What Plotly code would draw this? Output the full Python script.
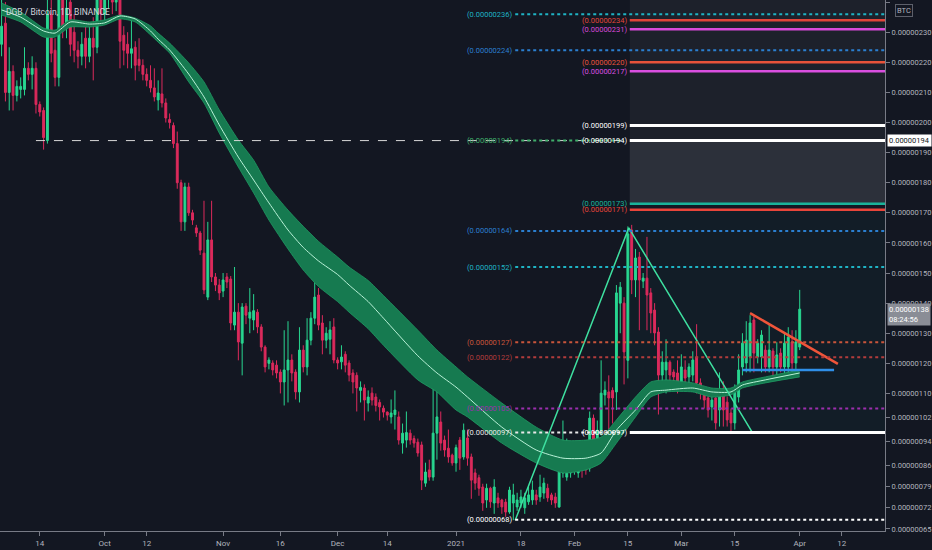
import pandas as pd
import plotly.graph_objects as go

# ---------------- data ----------------
start_date = "2020-09-04"
n_candles = 210

opens = [226,233,210,217,209,211,211,218,216,218,206,204,194,236,224,215,244,232,240,230,
         224,222,228,222,228,225,241,236,243,246,240,245,229,226,223,225,221,219,216,214,
         211.5,207.5,209.5,206.5,201,199,193,180,167,178.6,170,165,163.3,156.6,142,161,148.7,146,144,148.7,
         148,132.7,137,126.7,139,135,134.4,137,132.1,125.4,120,120.1,119.4,117.1,113.8,117.8,121.1,117.1,110.5,124.4,
         118.8,127.7,135,142.7,133.4,127.7,128,132.1,121.1,120.5,123,120.1,116.8,116,111,111.8,106.8,110.1,108.8,107,
         105.1,103.8,102.2,103,102.2,93.5,94.5,96.8,95,93.8,92.9,80.2,84.6,82.2,96.8,100.5,94.5,91.8,89.5,86.9,
         94.5,88.9,95.2,88.9,83.6,82,78.9,74.6,78.5,73.6,75.3,74.6,73.9,70.6,73.6,72.3,73.6,72,74,74.6,
         76.3,75.6,76.9,78.5,76.3,75.6,72.3,83.6,82.2,83.6,85.2,83.6,90.2,86.9,85.2,101.8,92.2,97.8,109.5,110.5,
         111,110.5,140,140,121,164.3,147.7,155.3,147.3,148.3,143.4,137.7,130.4,116.1,117.8,120.4,117.1,116.8,113.5,117.8,
         115.5,116.1,122.1,113.5,110.1,108.5,105.5,108.5,104.5,111.1,107.1,103.5,100.2,108.8,118.8,120.1,122.1,134.4,122.1,122.1,
         124.4,118.8,124.1,118.8,123.4,118.8,118.8,127.1,120.1,125.4]
highs = [245,240,225,219,214,215,225,220,222,220,207,205,245,245,228,248,250,246,246,236,
         227,230,232,233,235,248,246,250,252,249,250,250,232,230,234,227,228,221,218,219,
         218,214,218,208,203,200,197,181,180,180,171,166,164,174,167,174,150,148,150,150,
         149,152,140,140,140,145,143,138,133,126,122,121,121,118,131,134,123,118,132,126,
         135,137,159,145,136,132,134,135,122,126,124,121,118,117,114,113,111,112,110,108,
         106,104,108,111,104,100,104,98,96,95,94,87,88,115,115,104,96,98,90,93,
         95.5,100,98,90,85,83,80,80,79,81.5,77,75,75,79,80,77,78,77,79,81,
         78,83,82,80,77,77,86,101,95,93.5,90,94,91,88,104,103,101,121,114,116,
         112,146,147,142,165.5,166,158,157,150,162,145,140,132,124,128,121,118,121,123,121,
         120,124,133,115,112,110,110,110,117,114,109,105,113,123,130,134,136,136,128,131,
         126,133,125,127,125,130,132,131,131,144.4]
lows = [222,207,204,204,207,208,209,214,211,203,202,191,193,220,212,212,228,228,222,220,
        218,219,218,220,214,223,232,233,238,236,237,218,219,218,218,214,217,214,212,210,
        207,204,205,200,198,191.5,178,164,164,169,166,162,156,143,141,147,144,141,142,145,
        131,131,121,116,133,130,131,130,124,117,118,116,115,110,106,107,114,108,107,117,
        116,126,133,131,123,125,123,120,118,118,117,114,110,104,107,101,104,106,104,101,
        102,101,100,98,93,90,92,93,92,89,77.9,79,81,81,88,91,89,87,86,84,
        84.6,88,86,75,78,76,71,72,72,70,72,70,69,70,67.9,71,72,70,73,73,
        73,74,75,74,73,72,72,82,81,82,83,82,82,83,84,92,89,96,106,98,
        100,104.5,130,113,115,143,142,131,145,131,130,126,103,112,110,114,113,110,112,113,
        113,114,110,108,105,102,101,98,99,99,99,96.5,98,107,116,117,117,117,120,117,
        117,117,115,116,117,116,116,116,117,124.4]
closes = [232,210,217,209,212,212,218,216,218,206,203.5,195,236,223,215,244,232,238,226,224,
          222,226,222,228,225,241,236,243,246,240,245,227,224,223,224.5,219,219,216,214,211.5,
          208.5,209.8,206.5,201.5,200,193,180,167,178.6,170,167.6,163.3,157.6,144.4,161,148.7,146,143.4,147.7,147,
          133.4,137,127.1,138.7,136,137,137.5,132.1,125.4,118.8,121.1,117.8,116.8,113.8,117.8,121.1,116.8,110.5,124.4,118.8,
          127.7,135,142,132.7,127.7,130,131.1,121.1,120.1,122.1,119.4,116.1,113.8,111.8,112,107.8,108.8,107.8,106,105.5,
          103.8,102.8,103.5,104.5,94.5,96.8,97,94.5,93.5,90.2,81.2,83.9,82.2,96.8,102.2,93.5,91.2,88.9,86.9,92,
          88.5,97.8,88.5,81.2,80.2,78.5,73.6,78.5,74,78.9,73.6,72.3,70.6,77.9,76.3,74.6,75.6,75.3,76.3,77.9,
          74.6,78.9,80.2,75.3,74.6,73.6,84.6,86.9,90.2,87.9,86.9,90.2,86.9,84.6,101.8,94.5,97.8,110.1,111.1,108.5,
          108.5,143.4,145.3,123.8,163,147.7,155,147.7,148.3,142.7,136.7,130.1,116.1,120.4,120.4,116.1,115.5,113.8,118.8,115.1,
          118.8,121.1,113.5,110.1,107.8,104.5,107.8,100.2,111.1,104.5,101.2,100.2,111.1,117.8,126.7,127.7,133.4,123.4,126.7,129.4,
          118.8,124.4,118.8,122.8,118.8,126.7,128.7,120.1,127.1,138]

rib_dates = ["2020-09-04","2020-09-09","2020-09-15","2020-09-18","2020-09-22","2020-09-27","2020-10-01",
             "2020-10-05","2020-10-09","2020-10-13","2020-10-15","2020-10-18","2020-10-23","2020-10-27",
             "2020-10-31","2020-11-05","2020-11-09","2020-11-13","2020-11-18","2020-11-22","2020-11-26",
             "2020-12-01","2020-12-04","2020-12-09","2020-12-13","2020-12-22","2020-12-27","2021-01-01",
             "2021-01-04","2021-01-13","2021-01-22","2021-01-29","2021-02-04","2021-02-08","2021-02-12",
             "2021-02-17","2021-02-21","2021-02-25","2021-03-04","2021-03-09","2021-03-14","2021-03-17",
             "2021-03-23","2021-04-01"]
rib_upper = [239.7,236.7,231.4,230.7,234.1,233.4,234.1,235.7,234.7,232.1,229.7,226.4,219.8,213.5,
             204.2,194.2,187.5,178.6,170.9,165.5,160.5,155.3,152.0,147.5,142.5,131.0,124.4,118.8,
             115.5,106.8,98.8,94.5,94.5,95.5,101.2,108.8,113.8,114.5,113.5,111.8,111.8,113.8,115.5,117.8]
rib_lower = [235.7,233.4,228.4,228.4,231.7,231.7,232.4,234.4,233.4,229.1,226.7,223.1,213.5,206.5,
             196.5,185.2,176.6,167.6,158.0,151.0,145.5,140.5,137.0,131.5,126.0,114.5,110.5,104.5,
             102.2,93.5,86.9,83.6,84.6,86.9,93.5,102.2,108.8,110.5,110.5,108.8,109.5,111.8,113.5,115.5]
rib_mid = [237.4,235.0,230.4,229.7,233.4,232.7,233.1,235.4,234.4,230.4,227.7,224.1,216.1,208.5,
           199.2,188.5,180.9,173.3,164.3,158.5,154.0,149.5,146.0,140.5,135.0,122.5,116.8,112.1,
           108.8,98.8,91.2,88.5,88.5,90.2,97.8,104.5,110.5,111.1,111.8,110.5,110.5,112.8,114.5,116.8]

# fib levels anchored at the swing low (left labels) and at the peak (right labels)
low_fib_levels = [236, 224, 194, 164, 152, 127, 122, 105, 97, 68]
low_fib_colors = ["#1fb3c4", "#2b7fd0", "#3fae6a", "#2b7fd0", "#1fb3c4", "#c9553b", "#b23c3c", "#9b2fae", "#e8e8e8", "#ffffff"]
high_fib_levels = [234, 231, 220, 217, 199, 194, 173, 171, 97]
high_fib_colors = ["#e0453a", "#d94ad9", "#e8533a", "#d94fe0", "#ffffff", "#ffffff", "#1ab39a", "#e8453a", "#ffffff"]

zig_dates = ["2021-01-16 12:00", "2021-02-15 06:00", "2021-03-19 12:00"]
zig_prices = [67.9, 165.0, 97.2]
trend_dates = ["2021-03-19", "2021-04-11"]
trend_prices = [136.7, 119.8]
support_dates = ["2021-03-17", "2021-04-10"]
support_prices = [117.8, 117.8]

y_ticks = [65, 72, 79, 86, 94, 102, 110, 120, 130, 140, 150, 160, 170, 180, 190, 200, 210, 220, 230, 240]
x_tick_dates = ["2020-09-14", "2020-10-01", "2020-10-12", "2020-11-01", "2020-11-16", "2020-12-01", "2020-12-14",
                "2021-01-01", "2021-01-18", "2021-02-01", "2021-02-15", "2021-03-01", "2021-03-15", "2021-04-01", "2021-04-12"]
x_tick_labels = ["14", "Oct", "12", "Nov", "16", "Dec", "14", "2021", "18", "Feb", "15", "Mar", "15", "Apr", "12"]

last_price = 138
# --------------------------------------

dates = pd.date_range(start_date, periods=n_candles, freq="D")
x_end = "2021-04-23 08:00"
x_start = "2020-09-03 14:00"
BG = "#131722"
FONT = "Liberation Sans Narrow, Roboto, Arial, sans-serif"

def fmt(p):
    return "(" + "{:.8f}".format(p / 1e8) + ")"

fig = go.Figure()

# shaded fib zones (right side)
fig.add_shape(type="rect", xref="x", yref="y", x0="2021-02-15 12:00", x1=x_end, y0=194, y1=245,
              fillcolor="rgba(255,255,255,0.045)", line_width=0, layer="below")
fig.add_shape(type="rect", xref="x", yref="y", x0="2021-02-15 12:00", x1=x_end, y0=173, y1=194,
              fillcolor="rgba(255,255,255,0.11)", line_width=0, layer="below")
fig.add_shape(type="rect", xref="x", yref="y", x0="2021-02-15 12:00", x1=x_end, y0=97, y1=171,
              fillcolor="rgba(0,150,136,0.05)", line_width=0, layer="below")

# ribbon
RIB = "rgb(22,122,80)"
fig.add_trace(go.Scatter(x=rib_dates, y=rib_lower, mode="lines",
                         line=dict(color="#1f9a63", width=0.8, shape="spline", smoothing=0.6), hoverinfo="skip"))
fig.add_trace(go.Scatter(x=rib_dates, y=rib_upper, mode="lines",
                         line=dict(color="#1f9a63", width=0.8, shape="spline", smoothing=0.6),
                         fill="tonexty", fillcolor=RIB, hoverinfo="skip"))
fig.add_trace(go.Scatter(x=rib_dates, y=rib_mid, mode="lines",
                         line=dict(color="#b9f2d8", width=1, shape="spline", smoothing=0.6), hoverinfo="skip"))

# candles
fig.add_trace(go.Candlestick(x=dates, open=opens, high=highs, low=lows, close=closes,
                             increasing=dict(line=dict(color="#28d690", width=1), fillcolor="#28d690"),
                             decreasing=dict(line=dict(color="#dc2a5c", width=1), fillcolor="#dc2a5c"),
                             whiskerwidth=0))

# long dashed 194 line
fig.add_shape(type="line", xref="x", yref="y", x0="2020-09-13", x1=x_end, y0=194, y1=194,
              line=dict(color="#d8d8d8", width=1, dash="dash"))

# left fib set: dotted lines from swing low
for lvl, col in zip(low_fib_levels, low_fib_colors):
    x1 = "2021-02-14" if lvl in (97, 194) else x_end
    fig.add_shape(type="line", xref="x", yref="y", x0="2021-01-16 12:00", x1=x1, y0=lvl, y1=lvl,
                  line=dict(color=col, width=2, dash="dot"))
    fig.add_annotation(x="2021-01-16 06:00", y=lvl, xref="x", yref="y", text=fmt(lvl), showarrow=False,
                       xanchor="right", yanchor="middle", font=dict(family=FONT, size=7.5, color=col))

# right fib set: solid lines from peak
for lvl, col in zip(high_fib_levels, high_fib_colors):
    w = 3 if lvl in (97, 194, 199) else 2.5
    fig.add_shape(type="line", xref="x", yref="y", x0="2021-02-15 12:00", x1=x_end, y0=lvl, y1=lvl,
                  line=dict(color=col, width=w))
    fig.add_annotation(x="2021-02-15 06:00", y=lvl, xref="x", yref="y", text=fmt(lvl), showarrow=False,
                       xanchor="right", yanchor="middle", font=dict(family=FONT, size=7.5, color=col))

# drawings
fig.add_trace(go.Scatter(x=zig_dates, y=zig_prices, mode="lines", line=dict(color="#3ee0a0", width=1.5), hoverinfo="skip"))
fig.add_trace(go.Scatter(x=trend_dates, y=trend_prices, mode="lines", line=dict(color="#f0553a", width=2.5), hoverinfo="skip"))
fig.add_trace(go.Scatter(x=support_dates, y=support_prices, mode="lines", line=dict(color="#2f8fe8", width=2.5), hoverinfo="skip"))

# title
fig.add_annotation(x=0.005, y=0.99, xref="paper", yref="paper", text="DGB / Bitcoin, 1D, BINANCE", showarrow=False,
                   xanchor="left", yanchor="top", font=dict(family=FONT, size=8.5, color="#d1d4dc"))

# price axis boxes
fig.add_annotation(x=1, y=194, xref="paper", yref="y", text="0.00000194", showarrow=False, xanchor="left",
                   xshift=2, yanchor="middle", bgcolor="#ffffff", font=dict(family=FONT, size=7.5, color="#131722"),
                   borderpad=1)
fig.add_annotation(x=1, y=last_price, xref="paper", yref="y", text="0.00000138<br>08:24:56", showarrow=False,
                   xanchor="left", xshift=2, yanchor="top", yshift=6, align="left", bgcolor="#8a8d96",
                   font=dict(family=FONT, size=7.5, color="#ffffff"), borderpad=1)
fig.add_annotation(x=1, y=1, xref="paper", yref="paper", text="BTC", showarrow=False, xanchor="left", xshift=10,
                   yanchor="top", yshift=-4, bordercolor="#5d606b", borderwidth=1, borderpad=1, bgcolor=BG,
                   font=dict(family=FONT, size=7.5, color="#b2b5be"))

fig.update_layout(
    width=932, height=550, margin=dict(l=0, r=42, t=0, b=19),
    paper_bgcolor=BG, plot_bgcolor=BG, showlegend=False,
    xaxis=dict(type="date", range=[x_start, x_end], rangeslider=dict(visible=False), showgrid=False, zeroline=False,
               tickvals=x_tick_dates, ticktext=x_tick_labels, ticks="outside", ticklen=4, tickcolor="#787b86",
               showline=True, linecolor="#787b86", linewidth=1,
               tickfont=dict(family=FONT, size=8, color="#b2b5be")),
    yaxis=dict(side="right", range=[64.3, 240.7], showgrid=False, zeroline=False,
               tickvals=y_ticks, ticktext=["{:.8f}".format(v / 1e8) for v in y_ticks],
               ticks="outside", ticklen=4, tickcolor="#787b86", showline=True, linecolor="#787b86", linewidth=1,
               tickfont=dict(family=FONT, size=7.5, color="#b2b5be")),
)

fig.write_html("out.html", config={"displayModeBar": False},
               post_script="document.body.style.margin='0';document.body.style.background='#131722';")
